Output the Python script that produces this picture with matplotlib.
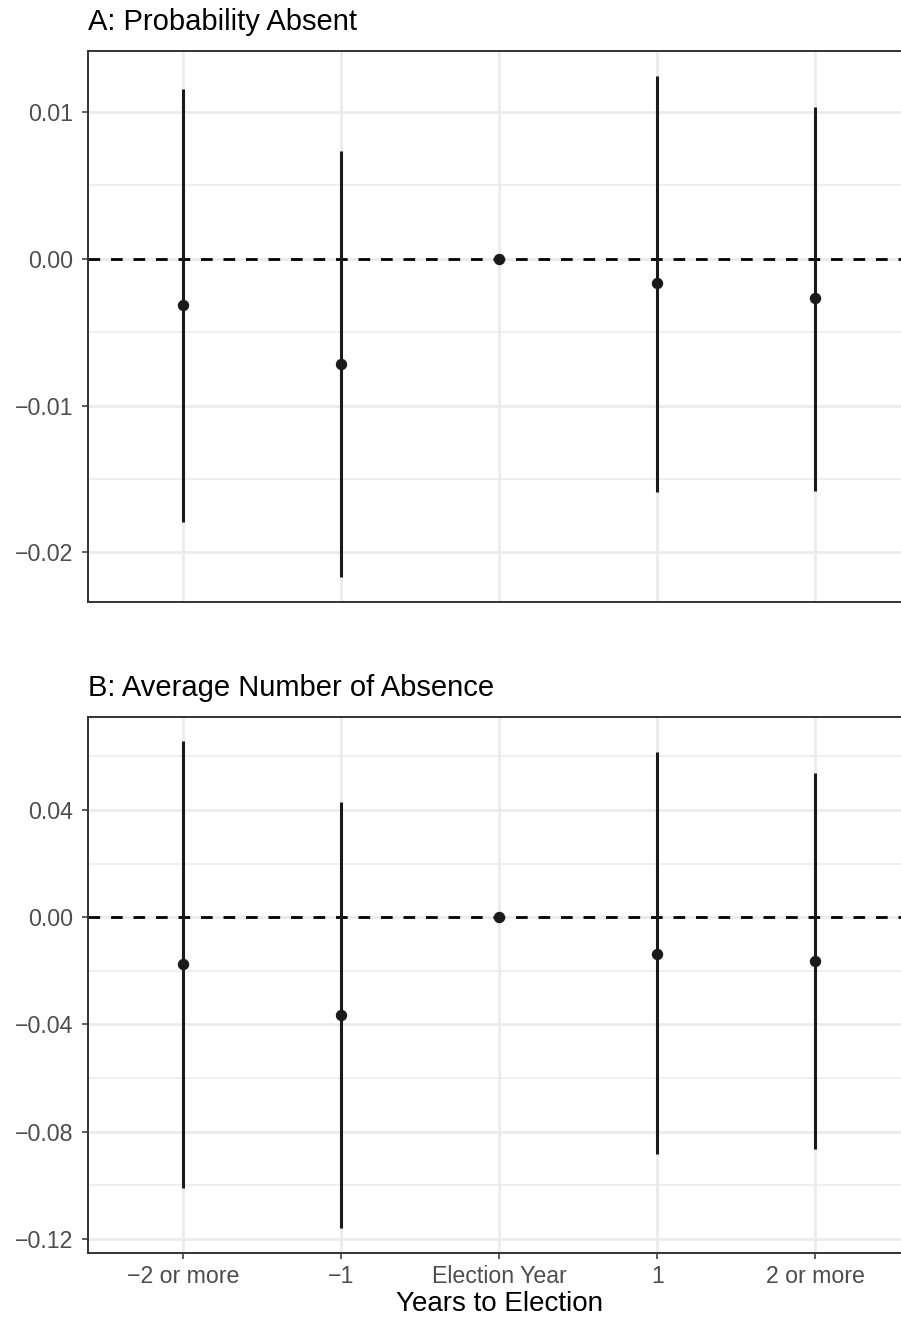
import matplotlib
matplotlib.use("Agg")
import matplotlib.pyplot as plt

plt.rcParams['font.family'] = ['Liberation Sans', 'DejaVu Sans']

categories = ["\u22122 or more", "\u22121", "Election Year", "1", "2 or more"]

# panel A: probability absent
a_est = [-0.00317, -0.00717, 0.0, -0.00165, -0.00270]
a_lo = [-0.01792, -0.02165, 0.0, -0.01585, -0.01578]
a_hi = [0.01153, 0.00735, 0.0, 0.01244, 0.01031]
a_ticks = [0.01, 0.0, -0.01, -0.02]
a_labels = ["0.01", "0.00", "\u22120.01", "\u22120.02"]
a_minor = [0.005, -0.005, -0.015]

# panel B: average number of absence
b_est = [-0.01746, -0.0365, 0.0, -0.0136, -0.0164]
b_lo = [-0.1009, -0.1161, 0.0, -0.0885, -0.0864]
b_hi = [0.0659, 0.0430, 0.0, 0.0615, 0.0537]
b_ticks = [0.04, 0.0, -0.04, -0.08, -0.12]
b_labels = ["0.04", "0.00", "\u22120.04", "\u22120.08", "\u22120.12"]
b_minor = [0.06, 0.02, -0.02, -0.06, -0.10]

W, H = 901, 1322
fig = plt.figure(figsize=(W / 100, H / 100), dpi=100)

left = 88.3 / W
width = (910.2 - 88.3) / W
axA = fig.add_axes([left, (H - 602) / H, width, (602 - 51) / H])
axB = fig.add_axes([left, (H - 1252.7) / H, width, (1252.7 - 716.7) / H])

grid_col = "#EBEBEB"
border_col = "#333333"


def panel(ax, est, lo, hi, ticks, labels, minor, ylim, title):
    x = list(range(len(categories)))
    for m in minor:
        ax.axhline(m, color=grid_col, lw=1.1, zorder=0)
    for t in ticks:
        ax.axhline(t, color=grid_col, lw=2.0, zorder=0)
    for xi in x:
        ax.axvline(xi, color=grid_col, lw=2.0, zorder=0)
    ax.axhline(0, color="black", lw=2.0, dashes=(4.2, 3.9), zorder=1)
    ax.vlines(x, lo, hi, color="#1A1A1A", lw=2.2, zorder=2)
    ax.plot(x, est, "o", color="#1A1A1A", ms=7.2, zorder=3)
    ax.set_xlim(-0.6, len(categories) - 0.4)
    ax.set_ylim(*ylim)
    ax.set_yticks(ticks)
    ax.set_yticklabels(labels)
    ax.set_xticks(x)
    for s in ax.spines.values():
        s.set_color(border_col)
        s.set_linewidth(1.4)
    ax.tick_params(axis="both", colors=border_col, width=1.1, length=4.6,
                   labelsize=16.7, labelcolor="#4D4D4D")
    ax.tick_params(axis="y", pad=6.5)
    ax.tick_params(axis="x", pad=4.5)
    ax.set_title(title, loc="left", fontsize=21, pad=15)


panel(axA, a_est, a_lo, a_hi, a_ticks, a_labels, a_minor,
      (-0.02337, 0.014139), "A: Probability Absent")
axA.tick_params(axis="x", length=0, labelbottom=False)

panel(axB, b_est, b_lo, b_hi, b_ticks, b_labels, b_minor,
      (-0.12519, 0.07481), "B: Average Number of Absence")
axB.set_xticklabels(categories)
axB.set_xlabel("Years to Election", fontsize=20, labelpad=2)

fig.savefig("out.png", dpi=100)
